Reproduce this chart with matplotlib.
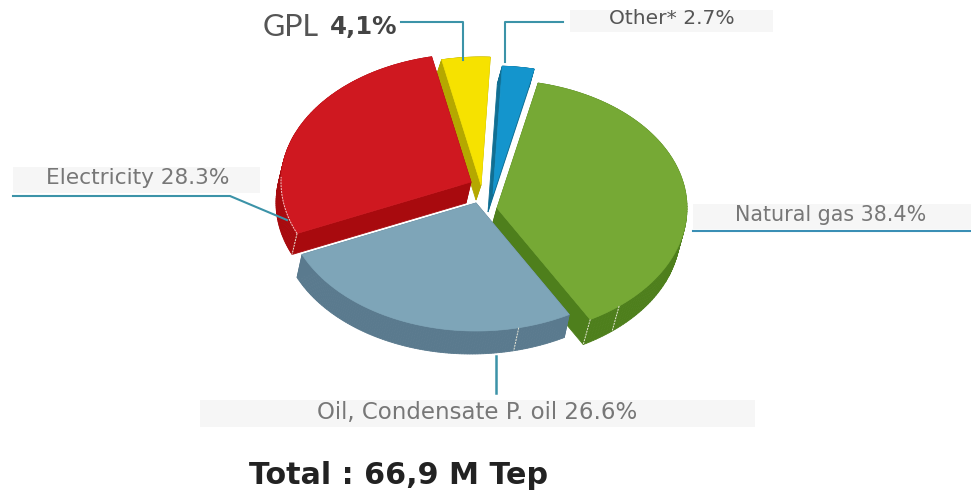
import matplotlib.pyplot as plt
from matplotlib.patches import Polygon, Rectangle
import numpy as np

# Energy consumption shares, clockwise from the top of the pie
names = ['Other*', 'Natural gas', 'Oil, Condensate P. oil', 'Electricity', 'GPL']
shares = [2.7, 38.4, 26.6, 28.3, 4.1]
total_text = 'Total : 66,9 M Tep'

top_colors = ['#1495cd', '#76a935', '#7ea5b8', '#cf1820', '#f6e200']
side_colors = ['#116f93', '#4e7f1c', '#5a7a8e', '#a80a0e', '#b5a800']

# Where each slice sits after exploding, and how far its side is extruded
centers = [(493, 194), (497, 208), (476, 203), (471, 182), (481, 185)]
extrude = [(-5, 18), (-7, 25), (-5, 23), (-5, 21), (-5, 15)]
rim_marks = [[], [140], [167], [], []]

RX, RY = 190, 128
START = 2.8
LINE = '#3c93a8'

plt.rcParams['font.family'] = ['DejaVu Sans']

fig = plt.figure(figsize=(9.71, 4.92), dpi=100)
ax = fig.add_axes([0, 0, 1, 1])
ax.set_xlim(0, 971)
ax.set_ylim(492, 0)
ax.axis('off')


def rim_point(center, angle):
    a = np.radians(angle)
    return np.column_stack([center[0] + RX * np.sin(a), center[1] - RY * np.cos(a)])


def draw_slice(i, start, end):
    center = centers[i]
    z = 2 + order.index(i)
    arc = rim_point(center, np.linspace(start, end, 120))
    outline = np.vstack([[center], arc])
    closed = np.vstack([outline, outline[:1]])
    shift = np.array(extrude[i])

    # Side walls first, the top face then hides the ones pointing away
    for p, q in zip(closed[:-1], closed[1:]):
        quad = [p, q, q + shift, p + shift]
        ax.add_patch(Polygon(quad, closed=True, fc=side_colors[i], ec=side_colors[i], lw=0.6, zorder=z))
    ax.add_patch(Polygon(outline, closed=True, fc=top_colors[i], ec=top_colors[i], lw=0.5, zorder=z))

    # Thin pale seams on the rim
    for angle in rim_marks[i] + ([end] if i == 1 else []) + ([start] if i == 3 else []):
        p = rim_point(center, np.array([angle]))[0]
        ax.plot([p[0], p[0] + shift[0]], [p[1], p[1] + shift[1]], color='#e8e8d8', lw=0.7, ls=(0, (2, 1)), zorder=z)


angles = np.array(shares) / sum(shares) * 360
starts = START + np.concatenate([[0], np.cumsum(angles)[:-1]])
ends = starts + angles

# Paint order decides which slice overlaps its neighbour
order = [1, 2, 4, 0, 3]
for i in order:
    draw_slice(i, starts[i], ends[i])

# Pale seam along the lower left edge of the red slice
seam = rim_point(centers[3], np.linspace(starts[3], starts[3] + 26, 30))
ax.plot(seam[:, 0], seam[:, 1], color='#f2c8c8', lw=0.7, ls=(0, (2, 1)), zorder=11)

# Label backgrounds
for x, y, w, h in [(13, 167, 247, 26), (570, 10, 203, 22), (693, 204, 278, 25), (200, 400, 555, 27)]:
    ax.add_patch(Rectangle((x, y), w, h, fc='#f6f6f6', ec='none', zorder=1))

# Leader lines
ax.plot([13, 230, 287], [196, 196, 220], color=LINE, lw=1.5, zorder=12)
ax.plot([401, 463, 463], [22, 22, 60], color=LINE, lw=1.5, zorder=12)
ax.plot([563, 505, 505], [22, 22, 62], color=LINE, lw=1.5, zorder=12)
ax.plot([693, 971], [231, 231], color='#3a8fb5', lw=1.5, zorder=12)
ax.plot([496, 496], [356, 393], color=LINE, lw=1.8, zorder=12)

# Labels
ax.text(672, 19, f'{names[0]} {shares[0]}%', fontsize=14.6, color='#555555', ha='center', va='center', zorder=13)
ax.text(831, 215, f'{names[1]} {shares[1]}%', fontsize=14.9, color='#777777', ha='center', va='center', zorder=13)
ax.text(477.5, 412, f'{names[2]} {shares[2]}%', fontsize=16.5, color='#777777', ha='center', va='center', zorder=13)
ax.text(138, 178, f'{names[3]} {shares[3]}%', fontsize=15.6, color='#777777', ha='center', va='center', zorder=13)

gpl_text = f'{shares[4]}%'.replace('.', ',')
ax.text(263, 27, names[4], fontsize=22, family=['Lato', 'DejaVu Sans'], color='#555555', ha='left', va='center', zorder=13)
ax.text(330, 27, gpl_text, fontsize=17.6, fontweight='bold', color='#444444', ha='left', va='center', zorder=13)

ax.text(399, 475, total_text, fontsize=21.7, fontweight='bold', color='#222222', ha='center', va='center', zorder=13)

plt.savefig('out.png', dpi=100)
